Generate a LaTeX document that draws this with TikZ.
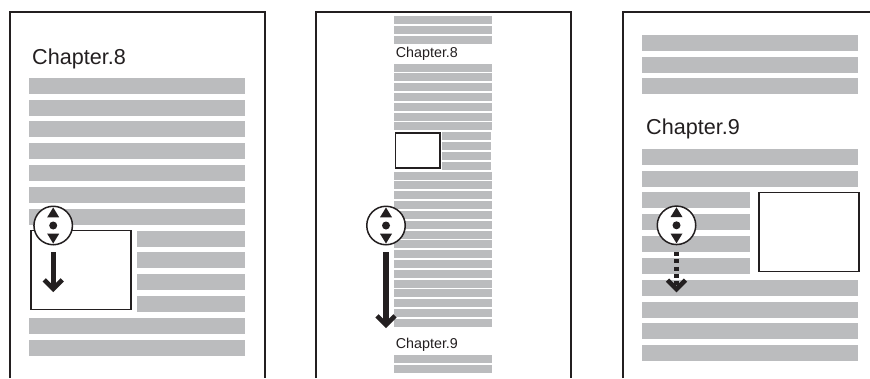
\documentclass[tikz,border=0pt]{standalone}
\usepackage{fontspec}
\setmainfont{Liberation Sans}
\definecolor{bar}{HTML}{BBBCBE}
\definecolor{ink}{HTML}{231F20}
\tikzset{
 x=1pt,y=-1pt,
 pageframe/.style={draw=ink,line width=1.6pt},
 barfill/.style={fill=bar,draw=none},
 figbox/.style={draw=ink,line width=1.5pt,fill=white,minimum width=100pt,minimum height=79pt,anchor=north west,inner sep=0pt,outer sep=0pt},
 dial/.style={circle,draw=ink,line width=1.5pt,fill=white,minimum size=38.5pt,inner sep=0pt,outer sep=0pt},
 bigtitle/.style={anchor=base west,inner sep=0pt,text=ink,font=\fontsize{21.6}{24}\selectfont},
 smalltitle/.style={anchor=base west,inner sep=0pt,text=ink,font=\fontsize{14.3}{17}\selectfont},
 shaft/.style={draw=ink,line width=5.2pt},
}
\newcommand{\bars}[3]{\foreach \t in {#3}{\fill[barfill] (#1,\t) rectangle (#2,\t+\barh);}}
\newcommand{\dialmarks}[1]{%
 \begin{scope}[shift={(#1.center)}]
 \fill[ink] (0,0) circle (4pt);
 \fill[ink] (-6,-8.2) -- (6,-8.2) -- (0,-18) -- cycle;
 \fill[ink] (-6,8.2) -- (6,8.2) -- (0,18) -- cycle;
 \end{scope}
}
\newcommand{\chev}[1]{%
 \begin{scope}[shift={(#1)}]
 \draw[ink,line width=4.6pt] (-9,-12.2) -- (0,-3.2) -- (9,-12.2);
 \end{scope}
}
\begin{document}
\begin{tikzpicture}
\useasboundingbox (0,0) rectangle (870,378);
\def\barh{16}
% frames
\draw[pageframe] (10,378) -- (10,12) -- (265,12) -- (265,378);
\draw[pageframe] (316,378) -- (316,12) -- (571,12) -- (571,378);
\draw[pageframe] (623,378) -- (623,12) -- (870,12);
% page 1
\node[bigtitle] (t1) at (32,64) {Chapter.8};
\bars{29}{245}{78,100,121,143,165,187,209,318,340}
\bars{137}{245}{231,252,274,296}
\node[figbox] (f1) at (31,230.5) {};
\node[dial] (d1) at (53.2,225.5) {};
\dialmarks{d1}
\coordinate (a1s) at (53.2,252);
\coordinate (a1e) at (53.2,292);
\draw[shaft] (a1s) -- ([yshift=5pt]a1e);
\chev{a1e}
% page 2
\def\barh{8}
\node[smalltitle] (t2) at (395.7,57.6) {Chapter.8};
\node[smalltitle] (t3) at (395.7,348.4) {Chapter.9};
\bars{394}{492}{16,26,36,64,73,83,93,103,113,122,172,181,191,201,211,221,231,240,250,260,270,280,289,299,309,319,355,365}
\bars{442}{491}{132,142,152,162}
\node[figbox,minimum width=44.5pt,minimum height=35pt] (f2) at (395.3,133) {};
\node[dial] (d2) at (386,225.5) {};
\dialmarks{d2}
\coordinate (a2s) at (386,252);
\coordinate (a2e) at (386,328);
\draw[shaft] (a2s) -- ([yshift=5pt]a2e);
\chev{a2e}
% page 3
\def\barh{16}
\node[bigtitle] (t4) at (646,134.6) {Chapter.9};
\bars{642}{858}{35,57,78,149,171,280,302,323,345}
\bars{642}{750}{192,214,236,258}
\node[figbox] (f3) at (759,192.5) {};
\node[dial] (d3) at (676.5,225.3) {};
\dialmarks{d3}
\coordinate (a3s) at (676.5,252);
\coordinate (a3e) at (676.5,292.3);
\draw[shaft,dash pattern=on 4pt off 3.3pt] (a3s) -- ([yshift=5pt]a3e);
\chev{a3e}
\end{tikzpicture}
\end{document}
